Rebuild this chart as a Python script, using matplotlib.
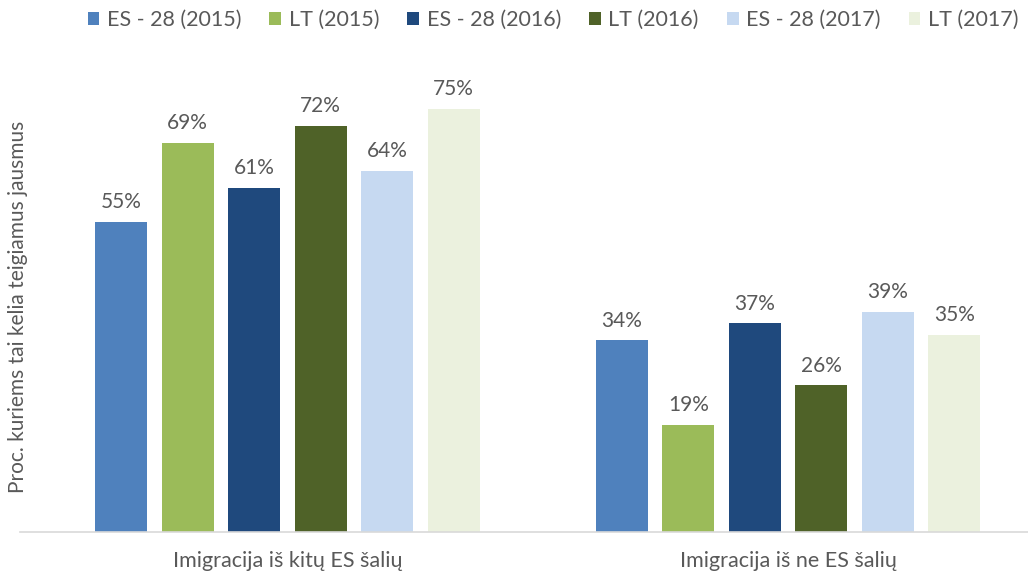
import matplotlib.pyplot as plt
import numpy as np

# Data
categories = ['Imigracija iš kitų ES šalių', 'Imigracija iš ne ES šalių']
series = ['ES - 28 (2015)', 'LT (2015)', 'ES - 28 (2016)', 'LT (2016)',
          'ES - 28 (2017)', 'LT (2017)']
values = [
    [55, 34],
    [69, 19],
    [61, 37],
    [72, 26],
    [64, 39],
    [75, 35],
]
colors = ['#4F81BD', '#9BBB59', '#1F497D', '#4F6228', '#C6D9F1', '#EBF1DE']

plt.rcParams['font.family'] = ['Lato', 'DejaVu Sans']
text_color = '#595959'

fig = plt.figure(figsize=(10.28, 5.77), dpi=100)
ax = fig.add_axes([20 / 1028, 45 / 577, 1008 / 1028, 451.2 / 577])

x = np.arange(len(categories))
pitch = 0.1328
width = 0.104
n = len(series)
for i, (name, vals, c) in enumerate(zip(series, values, colors)):
    pos = x + (i - (n - 1) / 2) * pitch
    bars = ax.bar(pos, vals, width, color=c, label=name)
    for b, v in zip(bars, vals):
        ax.annotate(f'{v}%', (b.get_x() + b.get_width() / 2, v),
                    xytext=(0, 7), textcoords='offset points',
                    ha='center', va='bottom', fontsize=15, color=text_color)

ax.set_xlim(-0.534, 1.479)
ax.set_ylim(0, 80)
ax.set_xticks(x)
ax.set_xticklabels(categories, fontsize=15.5, color=text_color)
ax.tick_params(axis='x', length=0, pad=14)
ax.set_yticks([])
for s in ['top', 'right', 'left']:
    ax.spines[s].set_visible(False)
ax.spines['bottom'].set_color('#D9D9D9')
ax.spines['bottom'].set_linewidth(1.2)

fig.text(18 / 1028, 1 - 307 / 577, 'Proc. kuriems tai kelia teigiamus jausmus',
         rotation=90, ha='center', va='center', fontsize=15, color=text_color)

fig.legend(loc='center', bbox_to_anchor=(553 / 1028, 1 - 20 / 577), ncol=6,
           frameon=False, fontsize=15.5, labelcolor=text_color,
           handlelength=0.55, handleheight=0.55, handletextpad=0.35,
           columnspacing=1.3)

fig.savefig('out.png', dpi=100)
